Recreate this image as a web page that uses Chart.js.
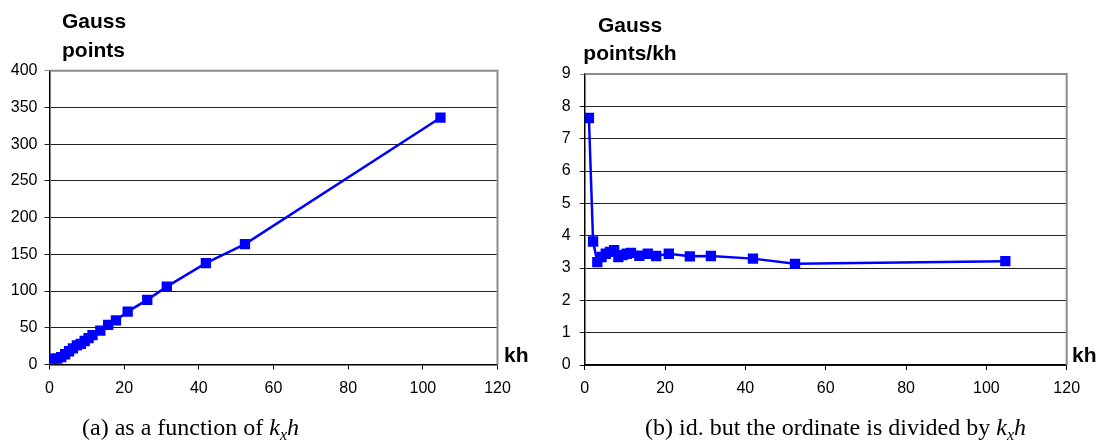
<!DOCTYPE html>
<html>
<head>
<meta charset="utf-8">
<script src="https://cdn.jsdelivr.net/npm/chart.js@4.4.0/dist/chart.umd.min.js"></script>
<style>
  html, body { margin:0; padding:0; background:#fff; }
  body { width:1101px; height:444px; position:relative; overflow:hidden; }
  canvas { position:absolute; top:0; }
  .t { position:absolute; font-family:"Liberation Sans", Arial, sans-serif; font-weight:bold; font-size:21px; color:#000; line-height:28.5px; white-space:nowrap; }
  .cap { position:absolute; font-family:"Liberation Serif", "Times New Roman", serif; font-size:24px; line-height:24px; color:#000; white-space:nowrap; }
  .cap sub { font-size:16px; vertical-align:-5px; line-height:0; }
</style>
</head>
<body>
<canvas id="c1" width="550" height="444" style="left:0px"></canvas>
<canvas id="c2" width="551" height="444" style="left:550px"></canvas>

<div class="t" style="left:62px; top:7px;">Gauss<br>points</div>
<div class="t" style="left:580px; top:11px; text-align:center; width:100px; line-height:27.6px;">Gauss<br>points/kh</div>
<div class="t" style="left:504px; top:340px; line-height:29px;">kh</div>
<div class="t" style="left:1072px; top:340px; line-height:29px;">kh</div>
<div class="cap" style="left:82px; top:415px;">(a) as a function of <i>k</i><sub><i>x</i></sub><i>h</i></div>
<div class="cap" style="left:645px; top:415px;">(b) id. but the ordinate is divided by <i>k</i><sub><i>x</i></sub><i>h</i></div>

<script>
// ---- data ----
const kh       = [1.05, 2.09, 3.14, 4.19, 5.24, 6.28, 7.33, 8.38, 9.42, 10.47, 11.52, 13.61, 15.71, 17.80, 20.94, 26.18, 31.42, 41.89, 52.36, 104.72];
const gaussPts = [8, 8, 10, 14, 18, 22, 26, 28, 32, 36, 40, 46, 54, 60, 72, 88, 106, 138, 164, 336];
const ptsPerKh = [7.64, 3.82, 3.18, 3.34, 3.44, 3.50, 3.55, 3.34, 3.40, 3.44, 3.47, 3.38, 3.44, 3.37, 3.44, 3.36, 3.37, 3.29, 3.13, 3.21];
const xTicks = [0, 20, 40, 60, 80, 100, 120];
const yTicksA = [0, 50, 100, 150, 200, 250, 300, 350, 400];
const yTicksB = [0, 1, 2, 3, 4, 5, 6, 7, 8, 9];

const tickFont = { family: '"Liberation Sans", Arial, sans-serif', size: 16 };

const borderPlugin = {
  id: 'plotBorder',
  afterDraw(chart) {
    const a = chart.chartArea, ctx = chart.ctx;
    ctx.save();
    ctx.strokeStyle = '#8c8c8c';
    ctx.lineWidth = 2;
    ctx.beginPath();
    ctx.moveTo(a.left, a.top);
    ctx.lineTo(a.right, a.top);
    ctx.lineTo(a.right, a.bottom);
    ctx.stroke();
    ctx.restore();
  }
};

function makeChart(id, xs, ys, yMax, yTickVals, pad, yAxisW, yPad) {
  return new Chart(document.getElementById(id), {
    type: 'line',
    data: {
      datasets: [{
        data: xs.map((x, i) => ({ x: x, y: ys[i] })),
        borderColor: '#0000ff',
        backgroundColor: '#0000ff',
        borderWidth: 2.5,
        pointStyle: 'rect',
        pointRadius: 7.3,
        pointHoverRadius: 7.3,
        pointBorderWidth: 0,
        tension: 0,
        fill: false
      }]
    },
    options: {
      responsive: false,
      animation: false,
      devicePixelRatio: 1,
      layout: { padding: pad },
      plugins: { legend: { display: false }, tooltip: { enabled: false } },
      scales: {
        x: {
          type: 'linear', min: 0, max: 120,
          afterBuildTicks: s => { s.ticks = xTicks.map(v => ({ value: v })); },
          afterFit: s => { s.height = 30; },
          ticks: { font: tickFont, color: '#000', padding: 9, maxRotation: 0 },
          grid: { drawOnChartArea: false, drawTicks: true, tickLength: 5, color: '#000', lineWidth: 1 },
          border: { color: '#000', width: 1.5 }
        },
        y: {
          type: 'linear', min: 0, max: yMax,
          afterBuildTicks: s => { s.ticks = yTickVals.map(v => ({ value: v })); },
          afterFit: s => { s.width = yAxisW; },
          ticks: { font: tickFont, color: '#000', padding: yPad },
          grid: { drawOnChartArea: true, drawTicks: true, tickLength: 5,
                  color: c => (c.tick && c.tick.value === yMax) ? '#8c8c8c' : '#222',
                  lineWidth: 1 },
          border: { color: '#000', width: 1.5 }
        }
      }
    },
    plugins: [borderPlugin]
  });
}

makeChart('c1', kh, gaussPts, 400, yTicksA, { top: 70.7, right: 52.5, bottom: 49.5, left: 0 }, 49.5, 7);
makeChart('c2', kh, ptsPerKh, 9, yTicksB, { top: 74, right: 34.3, bottom: 49, left: 0 }, 34.7, 9);
</script>
</body>
</html>
